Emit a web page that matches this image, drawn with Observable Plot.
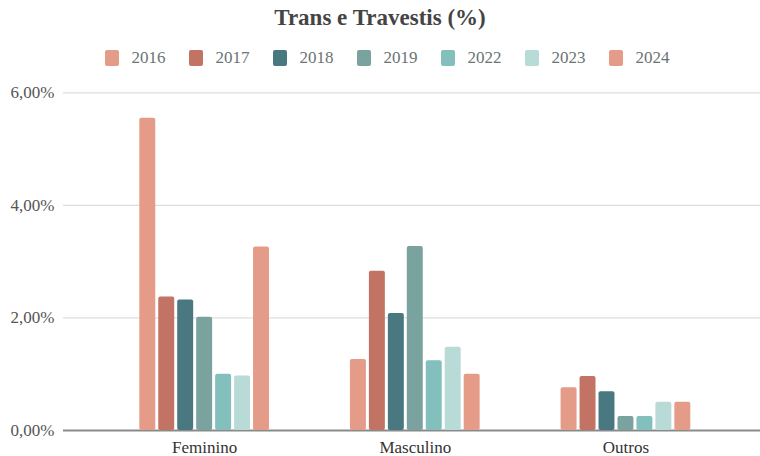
<!DOCTYPE html>
<html>
<head>
<meta charset="utf-8">
<script src="https://cdn.jsdelivr.net/npm/d3@7"></script>
<script src="https://cdn.jsdelivr.net/npm/@observablehq/plot@0.6"></script>
<style>
  html, body { margin: 0; padding: 0; background: #fff; }
  body { width: 760px; height: 456px; overflow: hidden; font-family: "Liberation Serif", "DejaVu Serif", serif; }
  #title { height: 36px; line-height: 36px; text-align: center; font-weight: bold; font-size: 23px; color: #444; }
  #legend { height: 44px; display: flex; justify-content: center; align-items: center; padding-left: 14px; box-sizing: border-box; }
  .item { display: flex; align-items: center; margin-right: 23px; }
  .item:last-child { margin-right: 0; }
  .sw { width: 14px; height: 16px; border-radius: 2px; margin-right: 13px; }
  .lbl { font-size: 17px; color: #6a7474; }
  #chart { position: relative; width: 760px; height: 376px; }
  #chart svg { position: absolute; left: 0; top: 0; }
</style>
</head>
<body>
<div id="title"></div>
<div id="legend"></div>
<div id="chart"></div>
<script>
const title = "Trans e Travestis (%)";
const categories = ["Feminino", "Masculino", "Outros"];
const years = ["2016", "2017", "2018", "2019", "2022", "2023", "2024"];
const colors = ["#E49C88", "#C27364", "#4A7880", "#7AA29F", "#82BFBD", "#B8DBD8", "#E49C88"];
const valuesFeminino  = [5.55, 2.37, 2.32, 2.01, 1.00, 0.97, 3.26];
const valuesMasculino = [1.26, 2.83, 2.08, 3.27, 1.24, 1.48, 1.00];
const valuesOutros    = [0.76, 0.96, 0.69, 0.25, 0.25, 0.50, 0.50];
const yTicks = [0, 2, 4, 6];

const series = [valuesFeminino, valuesMasculino, valuesOutros];
const data = [];
categories.forEach((c, i) => years.forEach((y, j) => data.push({cat: c, year: y, value: series[i][j]})));

document.getElementById("title").textContent = title;
const legend = document.getElementById("legend");
years.forEach((y, j) => {
  const it = document.createElement("div"); it.className = "item";
  const sw = document.createElement("div"); sw.className = "sw"; sw.style.background = colors[j];
  const lb = document.createElement("span"); lb.className = "lbl"; lb.textContent = y;
  it.appendChild(sw); it.appendChild(lb); legend.appendChild(it);
});

const fmt = d => d.toFixed(2).replace(".", ",") + "%";
const common = {
  width: 760,
  height: 376,
  marginLeft: 63,
  marginRight: 0,
  marginTop: 12,
  marginBottom: 26,
  style: {fontFamily: "'Liberation Serif', 'DejaVu Serif', serif", background: "transparent"},
  y: {domain: [0, 6], range: [350, 12.3], axis: null}
};

// Background layer: grid, baseline, y axis
const back = Plot.plot({
  ...common,
  x: {axis: null},
  marks: [
    Plot.ruleY(yTicks.filter(d => d > 0), {stroke: "#dedede", strokeWidth: 1.2}),
    Plot.ruleY([0], {stroke: "#8a8a8a", strokeWidth: 2}),
    Plot.axisY(yTicks, {anchor: "left", tickSize: 0, tickPadding: 9, tickFormat: fmt, fontSize: 17, fill: "#555"})
  ]
});

// Foreground layer: grouped bars (faceted by category)
const front = Plot.plot({
  ...common,
  fx: {domain: categories, range: [137.8, 691.8], paddingInner: 0.37, paddingOuter: 0, round: false, label: null, axis: null},
  x: {domain: years, paddingInner: 3/19, paddingOuter: 3/38, round: false, axis: null},
  color: {domain: years, range: colors},
  marks: [
    Plot.barY(data, {fx: "cat", x: "year", y: "value", fill: d => colors[years.indexOf(d.year)], rx: 2}),
    Plot.axisFx({anchor: "bottom", tickSize: 0, tickPadding: 10, fontSize: 17, fill: "#333", label: null})
  ]
});

const chart = document.getElementById("chart");
chart.appendChild(back);
chart.appendChild(front);
</script>
</body>
</html>
